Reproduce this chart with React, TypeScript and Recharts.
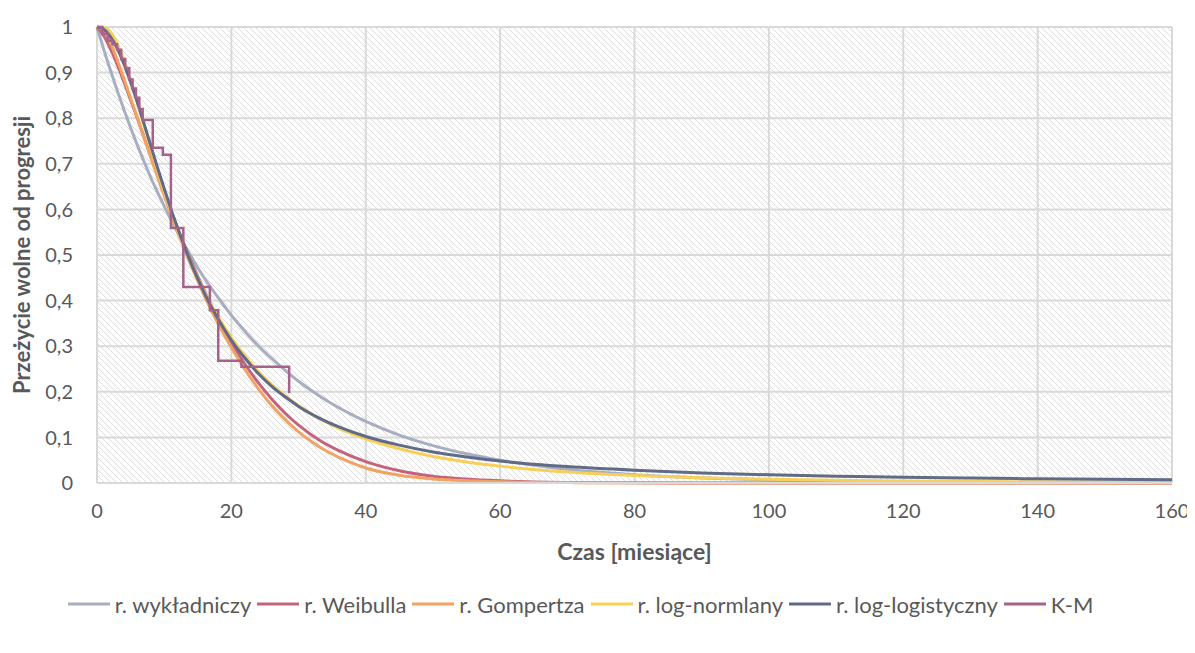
import { LineChart, Line, XAxis, YAxis, CartesianGrid, Legend } from 'recharts'

// months for the fitted curves
const months = [0, 1, 2, 3, 4, 5, 6, 7, 8, 9, 10, 11, 12, 13, 14, 15, 16, 18, 20, 22, 24, 26, 28, 30, 33, 36, 40, 45, 50, 55, 60, 70, 80, 90, 100, 110, 120, 130, 140, 150, 160]

const exponential = [1, 0.951, 0.905, 0.861, 0.819, 0.779, 0.741, 0.705, 0.67, 0.638, 0.607, 0.577, 0.549, 0.522, 0.497, 0.472, 0.449, 0.407, 0.368, 0.333, 0.301, 0.273, 0.247, 0.223, 0.192, 0.165, 0.135, 0.105, 0.082, 0.064, 0.05, 0.03, 0.018, 0.011, 0.0067, 0.0041, 0.0025, 0.0015, 0.0009, 0.0006, 0.0003]
const weibull = [1, 0.981, 0.952, 0.918, 0.88, 0.84, 0.8, 0.758, 0.717, 0.676, 0.636, 0.597, 0.559, 0.522, 0.487, 0.453, 0.421, 0.361, 0.308, 0.261, 0.22, 0.184, 0.153, 0.127, 0.095, 0.071, 0.047, 0.027, 0.015, 0.0086, 0.0047, 0.0013, 0.0003, 0.0001, 0, 0, 0, 0, 0, 0, 0]
const gompertz = [1, 0.992, 0.966, 0.928, 0.887, 0.844, 0.801, 0.757, 0.714, 0.672, 0.63, 0.59, 0.551, 0.513, 0.477, 0.443, 0.41, 0.35, 0.297, 0.249, 0.207, 0.17, 0.139, 0.112, 0.08, 0.056, 0.033, 0.017, 0.009, 0.005, 0.0027, 0.0009, 0.0003, 0.0001, 0, 0, 0, 0, 0, 0, 0]
const logNormal = [1, 0.999, 0.989, 0.964, 0.927, 0.883, 0.834, 0.784, 0.735, 0.686, 0.64, 0.597, 0.556, 0.518, 0.483, 0.45, 0.419, 0.365, 0.319, 0.279, 0.245, 0.216, 0.191, 0.17, 0.142, 0.12, 0.097, 0.075, 0.058, 0.046, 0.037, 0.024, 0.0165, 0.0115, 0.0082, 0.006, 0.0044, 0.0033, 0.0025, 0.002, 0.0015]
const logLogistic = [1, 0.995, 0.979, 0.953, 0.919, 0.879, 0.835, 0.788, 0.74, 0.692, 0.646, 0.601, 0.559, 0.519, 0.482, 0.448, 0.416, 0.36, 0.313, 0.274, 0.24, 0.212, 0.189, 0.168, 0.143, 0.123, 0.102, 0.083, 0.068, 0.057, 0.048, 0.036, 0.028, 0.022, 0.018, 0.015, 0.0125, 0.0107, 0.0092, 0.008, 0.0071]

// Kaplan-Meier steps
const kmMonths = [0, 0.8, 1.6, 2.3, 3.0, 3.6, 4.2, 4.8, 5.3, 5.8, 6.3, 6.8, 8.3, 9.8, 11.0, 12.85, 16.8, 18.05, 21.5, 28.6]
const kmSurvival = [1, 0.985, 0.97, 0.962, 0.95, 0.93, 0.91, 0.885, 0.865, 0.845, 0.82, 0.796, 0.735, 0.72, 0.559, 0.43, 0.379, 0.268, 0.255, 0.197]

const xTicks = [0, 20, 40, 60, 80, 100, 120, 140, 160]
const yTicks = [0, 0.1, 0.2, 0.3, 0.4, 0.5, 0.6, 0.7, 0.8, 0.9, 1]

const seriesNames = ['r. wykładniczy', 'r. Weibulla', 'r. Gompertza', 'r. log-normlany', 'r. log-logistyczny', 'K-M']
const seriesKeys = ['exp', 'weib', 'gomp', 'lnorm', 'llog', 'km']
const seriesColors = ['#a8aec2', '#c4647c', '#f2a263', '#f7d05a', '#606b87', '#a6628a']

const curveRows = months.map((m, i) => ({
    month: m,
    exp: exponential[i],
    weib: weibull[i],
    gomp: gompertz[i],
    lnorm: logNormal[i],
    llog: logLogistic[i],
}))

const kmRows = kmMonths.map((m, i) => ({ month: m, km: kmSurvival[i] }))

const FONT = 'Lato, "Open Sans", sans-serif'
const TEXT = '#595959'

const formatY = (v: number) => String(v).replace('.', ',')

const LegendBox = () => (
    <div
        style={{
            display: 'flex',
            justifyContent: 'center',
            alignItems: 'center',
            fontFamily: FONT,
            fontSize: 22,
            color: TEXT,
            height: 24,
        }}
    >
        {seriesNames.map((name, i) => (
            <span key={name} style={{ display: 'flex', alignItems: 'center', marginRight: i < 5 ? 6 : 0 }}>
                <svg width={42} height={6}>
                    <line x1={0} y1={3} x2={42} y2={3} stroke={seriesColors[i]} strokeWidth={3} />
                </svg>
                <span style={{ marginLeft: 5 }}>{name}</span>
            </span>
        ))}
    </div>
)

export default function App() {
    return (
        <div style={{ margin: -8 }}>
            <LineChart
                width={1195}
                height={653}
                data={curveRows}
                margin={{ top: 27, right: 23, left: 0, bottom: 66 }}
            >
                <defs>
                    <pattern id="hatch" patternUnits="userSpaceOnUse" width={6} height={6}>
                        <rect width={6} height={6} fill="#ffffff" />
                        <path d="M-1,-1 L7,7 M-1,5 L1,7 M5,-1 L7,1" stroke="#dddddd" strokeWidth={1} />
                    </pattern>
                </defs>
                <CartesianGrid stroke="#d9d9d9" strokeWidth={2} fill="url(#hatch)" />
                <XAxis
                    dataKey="month"
                    type="number"
                    domain={[0, 160]}
                    ticks={xTicks}
                    height={80}
                    tickSize={0}
                    tickMargin={21}
                    axisLine={{ stroke: '#d9d9d9', strokeWidth: 2 }}
                    tick={{ fill: TEXT, fontSize: 20, fontFamily: FONT }}
                    label={{
                        value: 'Czas [miesiące]',
                        position: 'insideBottom',
                        offset: 3,
                        style: { fill: TEXT, fontSize: 23, fontWeight: 700, fontFamily: FONT },
                    }}
                />
                <YAxis
                    type="number"
                    domain={[0, 1]}
                    ticks={yTicks}
                    width={97}
                    tickSize={0}
                    tickMargin={24}
                    axisLine={false}
                    tickFormatter={formatY}
                    tick={{ fill: TEXT, fontSize: 20, fontFamily: FONT }}
                    label={{
                        value: 'Przeżycie wolne od progresji',
                        angle: -90,
                        position: 'insideLeft',
                        offset: 22,
                        style: { fill: TEXT, fontSize: 22, fontWeight: 700, fontFamily: FONT, textAnchor: 'middle' },
                    }}
                />
                <Legend
                    verticalAlign="bottom"
                    height={24}
                    content={<LegendBox />}
                    wrapperStyle={{ bottom: 37, left: 0, width: 1161 }}
                />
                {seriesKeys.slice(0, 5).map((key, i) => (
                    <Line
                        key={key}
                        dataKey={key}
                        name={seriesNames[i]}
                        type="monotone"
                        stroke={seriesColors[i]}
                        strokeWidth={3}
                        dot={false}
                        isAnimationActive={false}
                    />
                ))}
                <Line
                    data={kmRows}
                    dataKey="km"
                    name="K-M"
                    type="stepAfter"
                    stroke={seriesColors[5]}
                    strokeWidth={2.5}
                    dot={false}
                    isAnimationActive={false}
                />
            </LineChart>
        </div>
    )
}
